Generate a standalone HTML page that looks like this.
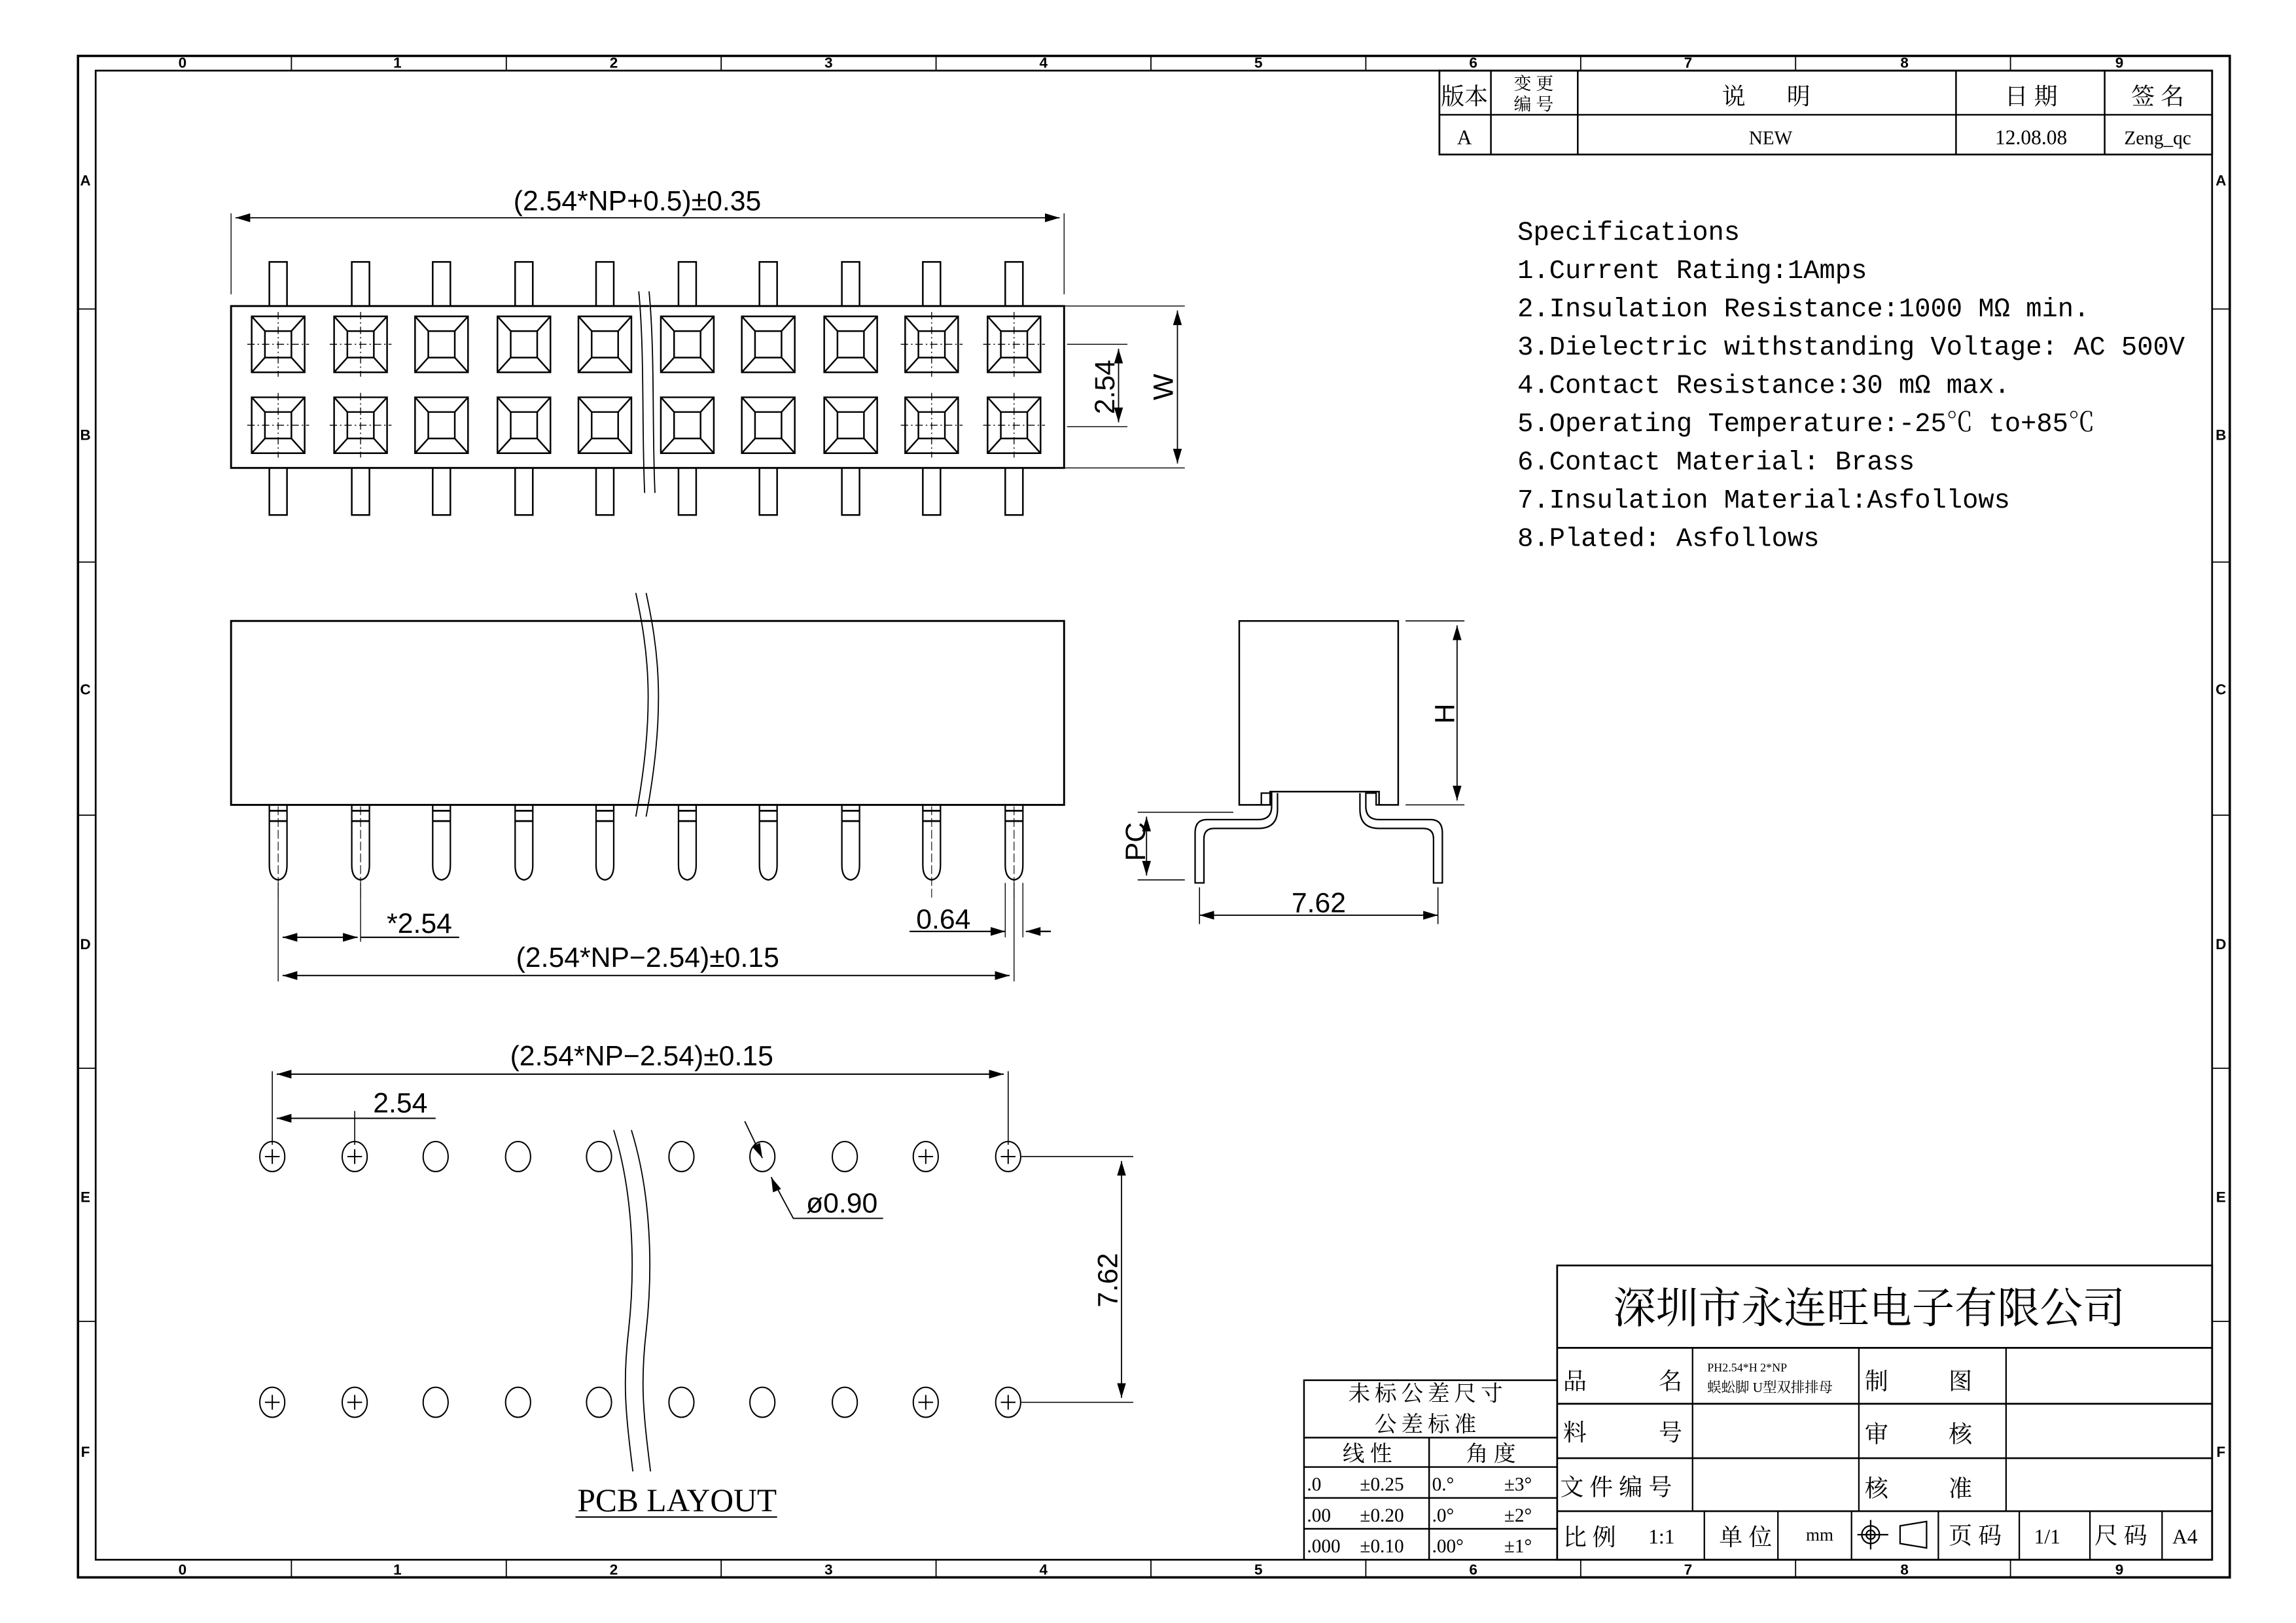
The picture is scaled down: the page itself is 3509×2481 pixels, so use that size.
<!DOCTYPE html>
<html><head><meta charset="utf-8"><style>
html,body{margin:0;padding:0;background:#fff}
svg{display:block}
text{font-family:"Liberation Sans","Noto Sans CJK SC",sans-serif;fill:#000}
.m text,text.m{font-family:"Liberation Mono","Noto Serif CJK SC",monospace}
.s text,text.s{font-family:"Liberation Serif","Noto Serif CJK SC",serif}
.c text,text.c{font-family:"Liberation Serif","Noto Serif CJK SC",serif}
.c text.s{font-family:"Liberation Serif","Noto Serif CJK SC",serif}
</style></head><body>
<svg id="d" width="3509" height="2481" viewBox="0 0 1560 1103" preserveAspectRatio="none" xmlns="http://www.w3.org/2000/svg">
<defs>
<marker id="a" viewBox="0 0 10 6" refX="10" refY="3" markerWidth="10" markerHeight="6" markerUnits="userSpaceOnUse" orient="auto-start-reverse"><path d="M0,0L10,3L0,6z" fill="#000"/></marker>
</defs>
<g fill="none" stroke="#000">
<rect x="53" y="38" width="1462" height="1034" stroke-width="1.6"/>
<rect x="65" y="48" width="1438" height="1012" stroke-width="1.2"/>
<g stroke-width="0.8">
<path d="M198,38V48M344,38V48M490,38V48M636,38V48M782,38V48M928,38V48M1074,38V48M1220,38V48M1366,38V48"/>
<path d="M198,1060V1072M344,1060V1072M490,1060V1072M636,1060V1072M782,1060V1072M928,1060V1072M1074,1060V1072M1220,1060V1072M1366,1060V1072"/>
<path d="M53,210H65M53,382H65M53,554H65M53,726H65M53,898H65"/>
<path d="M1503,210H1515M1503,382H1515M1503,554H1515M1503,726H1515M1503,898H1515"/>
</g>
<rect x="978" y="48" width="525" height="57" stroke-width="1.2"/>
<path d="M978,78H1503M1013,48V105M1072,48V105M1329,48V105M1430,48V105" stroke-width="1.1"/>

<rect x="157" y="208" width="566" height="110" stroke-width="1.3"/>
<g id="tv" stroke-width="1.1"></g>
<path d="M157,200V145M723,200V145M723,208H805M723,318H805M725,234H766M725,290H766" stroke-width="0.6"/>
<path d="M160,148H720" stroke-width="0.8" marker-start="url(#a)" marker-end="url(#a)"/>
<path d="M760,237V287" stroke-width="0.8" marker-start="url(#a)" marker-end="url(#a)"/>
<path d="M800,211V315" stroke-width="0.8" marker-start="url(#a)" marker-end="url(#a)"/>
<path d="M434,198C438,240 436,290 438,335M441,198C445,240 443,290 445,335" stroke-width="0.8" stroke="#000" fill="#fff"/>

<rect x="157" y="422" width="566" height="125" stroke-width="1.3"/>
<g id="sv" stroke-width="1"></g>
<path d="M432,403C440,440 446,480 432,555M439,403C447,440 453,480 439,555" stroke-width="0.8"/>
<path d="M189,600V667M245,600V640M689,600V667M683,600V637M695,600V637" stroke-width="0.6"/>
<path d="M192,637H243" stroke-width="0.9" marker-start="url(#a)" marker-end="url(#a)"/>
<path d="M245,637H312M618,633H680M705,633H714" stroke-width="0.9"/>
<path d="M672,633H683" stroke-width="0.9" marker-end="url(#a)"/>
<path d="M714,633H697" stroke-width="0.9" marker-end="url(#a)"/>
<path d="M192,663H686" stroke-width="0.9" marker-start="url(#a)" marker-end="url(#a)"/>

<path d="M842,547V422H950V547H937V538H863V547Z" stroke-width="1.1"/>
<path d="M853,547H857V539H864V548Q864,557 855,557H820Q812,557 812,566V600H818V570Q818,563 825,563H855Q868,563 868,550V539" stroke-width="1"/>
<path d="M939,547H935V539H928V548Q928,557 937,557H972Q980,557 980,566V600H974V570Q974,563 967,563H937Q924,563 924,550V539" stroke-width="1"/>
<path d="M955,422H995M955,547H995M773,552H838M773,598H805M815,603V628M977,603V628" stroke-width="0.7"/>
<path d="M990,425V544" stroke-width="0.8" marker-start="url(#a)" marker-end="url(#a)"/>
<path d="M779,555V595" stroke-width="0.8" marker-start="url(#a)" marker-end="url(#a)"/>
<path d="M815,622H977" stroke-width="0.8" marker-start="url(#a)" marker-end="url(#a)"/>

<g id="pcb" stroke-width="0.9"></g>
<path d="M185,778V728M241,778V755M685,778V728M694,786H770M694,953H770" stroke-width="0.7"/>
<path d="M188,730H682" stroke-width="0.9" marker-start="url(#a)" marker-end="url(#a)"/>
<path d="M188,760H241" stroke-width="0.9" marker-start="url(#a)"/>
<path d="M241,760H296" stroke-width="0.9"/>
<path d="M762,789V950" stroke-width="0.8" marker-start="url(#a)" marker-end="url(#a)"/>
<path d="M506,762L518,787" stroke-width="0.8" marker-end="url(#a)"/>
<path d="M524,800L539,828H600" stroke-width="0.8"/>
<path d="M527,807L524,800" stroke-width="0.8" marker-end="url(#a)"/>
<path d="M417,768C430,810 432,860 427,905C423,940 425,960 430,1000M429,768C442,810 444,860 439,905C435,940 437,960 442,1000" stroke-width="0.8"/>
<path d="M391,1031H528" stroke-width="0.9"/>

<path d="M886,938H1058V1060H886ZM886,977H1058M886,997H1058M886,1018H1058M886,1039H1058M971,977V1060" stroke-width="1.1"/>
<path d="M1058,860H1503V1060H1058ZM1058,916H1503M1058,954H1503M1058,991H1503M1058,1027H1503" stroke-width="1.2"/>
<path d="M1150,916V1027M1263,916V1027M1363,916V1027M1158,1027V1060M1208,1027V1060M1258,1027V1060M1317,1027V1060M1372,1027V1060M1420,1027V1060M1469,1027V1060" stroke-width="1"/>
<circle cx="1271" cy="1043" r="6" stroke-width="1"/><circle cx="1271" cy="1043" r="3" stroke-width="1"/>
<path d="M1262,1043H1283M1271,1033V1053M1291,1037L1309,1034V1052L1291,1049Z" stroke-width="1"/>
</g>

<g font-size="10" font-weight="bold" text-anchor="middle">
<text x="124" y="46">0</text><text x="270" y="46">1</text><text x="417" y="46">2</text><text x="563" y="46">3</text><text x="709" y="46">4</text><text x="855" y="46">5</text><text x="1001" y="46">6</text><text x="1147" y="46">7</text><text x="1294" y="46">8</text><text x="1440" y="46">9</text>
<text x="124" y="1070">0</text><text x="270" y="1070">1</text><text x="417" y="1070">2</text><text x="563" y="1070">3</text><text x="709" y="1070">4</text><text x="855" y="1070">5</text><text x="1001" y="1070">6</text><text x="1147" y="1070">7</text><text x="1294" y="1070">8</text><text x="1440" y="1070">9</text>
<text x="58" y="126">A</text><text x="58" y="299">B</text><text x="58" y="472">C</text><text x="58" y="645">D</text><text x="58" y="817">E</text><text x="58" y="990">F</text>
<text x="1509" y="126">A</text><text x="1509" y="299">B</text><text x="1509" y="472">C</text><text x="1509" y="645">D</text><text x="1509" y="817">E</text><text x="1509" y="990">F</text>
</g>

<g class="c" text-anchor="middle">
<text x="995" y="71" font-size="16">版本</text>
<text x="1042" y="61" font-size="12">变 更</text><text x="1042" y="75" font-size="12">编 号</text>
<text x="1200" y="71" font-size="16">说 &#160; &#160; &#160; 明</text>
<text x="1380" y="71" font-size="16">日 期</text>
<text x="1466" y="71" font-size="16">签 名</text>
<text x="995" y="98" font-size="14">A</text>
<text x="1203" y="98" font-size="13">NEW</text>
<text x="1380" y="98" font-size="14">12.08.08</text>
<text x="1466" y="98" font-size="13">Zeng_qc</text>
</g>

<g font-size="19">
<text x="433" y="143" text-anchor="middle">(2.54*NP+0.5)±0.35</text>
<text x="440" y="657" text-anchor="middle">(2.54*NP−2.54)±0.15</text>
<text x="285" y="634" text-anchor="middle">*2.54</text>
<text x="641" y="631" text-anchor="middle">0.64</text>
<text x="896" y="620" text-anchor="middle">7.62</text>
<text x="436" y="724" text-anchor="middle">(2.54*NP−2.54)±0.15</text>
<text x="272" y="756" text-anchor="middle">2.54</text>
<text x="572" y="824" text-anchor="middle">ø0.90</text>
<text transform="translate(757,263) rotate(-90)" text-anchor="middle">2.54</text>
<text transform="translate(797,263) rotate(-90)" text-anchor="middle">W</text>
<text transform="translate(988,485) rotate(-90)" text-anchor="middle">H</text>
<text transform="translate(778,572) rotate(-90)" text-anchor="middle">PC</text>
<text transform="translate(759,870) rotate(-90)" text-anchor="middle">7.62</text>
</g>
<text x="460" y="1027" font-size="22" class="s" text-anchor="middle">PCB LAYOUT</text>

<g class="m" font-size="18">
<text x="1031" y="163">Specifications</text>
<text x="1031" y="189">1.Current Rating:1Amps</text>
<text x="1031" y="215">2.Insulation Resistance:1000 MΩ min.</text>
<text x="1031" y="241">3.Dielectric withstanding Voltage: AC 500V</text>
<text x="1031" y="267">4.Contact Resistance:30 mΩ max.</text>
<text x="1031" y="293">5.Operating Temperature:-25℃ to+85℃</text>
<text x="1031" y="319">6.Contact Material:  Brass</text>
<text x="1031" y="345">7.Insulation Material:Asfollows</text>
<text x="1031" y="371">8.Plated: Asfollows</text>
</g>

<g class="c">
<text x="1270" y="899" font-size="29" text-anchor="middle">深圳市永连旺电子有限公司</text>
<text x="970" y="952" font-size="15" text-anchor="middle" letter-spacing="3">未标公差尺寸</text>
<text x="970" y="973" font-size="15" text-anchor="middle" letter-spacing="3">公差标准</text>
<text x="929" y="993" font-size="15" text-anchor="middle">线 性</text>
<text x="1013" y="993" font-size="15" text-anchor="middle">角 度</text>
<g font-size="13">
<text x="888" y="1013">.0</text><text x="924" y="1013">±0.25</text><text x="973" y="1013">0.°</text><text x="1022" y="1013">±3°</text>
<text x="888" y="1034">.00</text><text x="924" y="1034">±0.20</text><text x="973" y="1034">.0°</text><text x="1022" y="1034">±2°</text>
<text x="888" y="1055">.000</text><text x="924" y="1055">±0.10</text><text x="973" y="1055">.00°</text><text x="1022" y="1055">±1°</text>
</g>
<g font-size="16">
<text x="1062" y="944">品</text><text x="1127" y="944">名</text>
<text x="1062" y="979">料</text><text x="1127" y="979">号</text>
<text x="1060" y="1016">文 件 编 号</text>
<text x="1267" y="944">制</text><text x="1324" y="944">图</text>
<text x="1267" y="980">审</text><text x="1324" y="980">核</text>
<text x="1267" y="1017">核</text><text x="1324" y="1017">准</text>
<text x="1062" y="1050">比 例</text>
<text x="1120" y="1049" font-size="14">1:1</text>
<text x="1168" y="1050">单 位</text>
<text x="1227" y="1047" font-size="12">mm</text>
<text x="1324" y="1049">页 码</text>
<text x="1382" y="1049" font-size="14">1/1</text>
<text x="1423" y="1049">尺 码</text>
<text x="1476" y="1049" font-size="14">A4</text>
</g>
<text x="1160" y="932" font-size="8">PH2.54*H 2*NP</text>
<text x="1160" y="946" font-size="9.5">蜈蚣脚 U型双排排母</text>
</g>
</svg>
<script>
var xs=[189,245,300,356,411,467,522,578,633,689];
var tv=document.getElementById('tv'),sv=document.getElementById('sv'),pcb=document.getElementById('pcb');
var ns='http://www.w3.org/2000/svg';
function P(g,d,w,extra){var p=document.createElementNS(ns,'path');p.setAttribute('d',d);if(w)p.setAttribute('stroke-width',w);if(extra)p.setAttribute('stroke-dasharray',extra);g.appendChild(p);}
function C(g,x,y,r){var c=document.createElementNS(ns,'ellipse');c.setAttribute('cx',x);c.setAttribute('cy',y);c.setAttribute('rx',r);c.setAttribute('ry',r*1.2);g.appendChild(c);}
xs.forEach(function(x,i){
 var mk=(i<2||i>7);
 P(tv,'M'+(x-6)+',208V178H'+(x+6)+'V208M'+(x-6)+',318V350H'+(x+6)+'V318');
 [234,289].forEach(function(cy){
  var l=x-18,r=x+18,t=cy-19,b=cy+19,il=x-9,ir=x+9,it=cy-9,ib=cy+9;
  P(tv,'M'+l+','+t+'H'+r+'V'+b+'H'+l+'Z');
  P(tv,'M'+il+','+it+'H'+ir+'V'+ib+'H'+il+'Z');
  P(tv,'M'+l+','+t+'L'+il+','+it+'M'+r+','+t+'L'+ir+','+it+'M'+l+','+b+'L'+il+','+ib+'M'+r+','+b+'L'+ir+','+ib);
  if(mk){P(tv,'M'+(x-21)+','+cy+'H'+(x+21)+'M'+x+','+(t-3)+'V'+(b+3),0.6,'5,2,1,2');}
 });
 P(sv,'M'+(x-6)+',547V588Q'+(x-6)+',597 '+x+',598Q'+(x+6)+',597 '+(x+6)+',588V547');
 P(sv,'M'+(x-6)+',551H'+(x+6)+'M'+(x-6)+',558H'+(x+6),1.2);
 if(mk)P(sv,'M'+x+',548V610',0.5,'6,2');
 [786,953].forEach(function(y){C(pcb,x-4,y,8.5);if(mk)P(pcb,'M'+(x-9)+','+y+'H'+(x+1)+'M'+(x-4)+','+(y-5)+'V'+(y+5),0.9);});
});
</script>
</body></html>
